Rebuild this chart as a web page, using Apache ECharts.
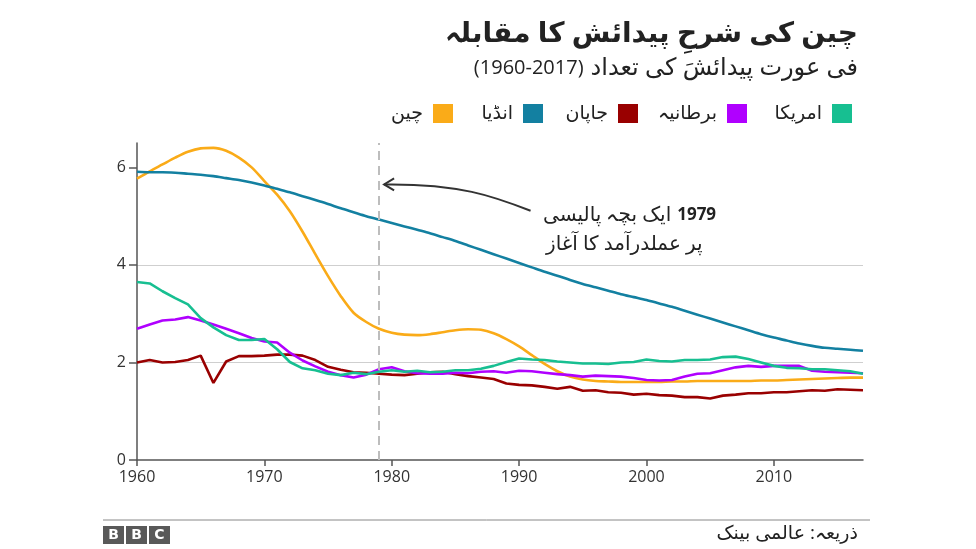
<!DOCTYPE html>
<html>
<head>
<meta charset="utf-8">
<script src="https://cdn.jsdelivr.net/npm/echarts@6/dist/echarts.min.js"></script>
<style>
html,body{margin:0;padding:0;background:#fff;}
#chart{width:976px;height:549px;}
</style>
</head>
<body>
<div id="chart" dir="rtl"></div>
<script>
// ---- Data ----
const years = [];
for (let y = 1960; y <= 2017; y++) years.push(y);

const seriesNames = ['چین', 'انڈیا', 'جاپان', 'برطانیہ', 'امریکا'];
const seriesColors = ['#FAAB18', '#1380A1', '#990000', '#B000FF', '#17BF91'];

const china = [5.77, 5.92, 6.06, 6.2, 6.32, 6.39, 6.4, 6.34, 6.2, 6.0,
  5.72, 5.44, 5.1, 4.68, 4.22, 3.77, 3.36, 3.02, 2.83, 2.69,
  2.61, 2.57, 2.56, 2.58, 2.62, 2.66, 2.68, 2.67, 2.6, 2.48,
  2.33, 2.15, 1.97, 1.82, 1.71, 1.65, 1.62, 1.61, 1.6, 1.6,
  1.6, 1.6, 1.61, 1.61, 1.62, 1.62, 1.62, 1.62, 1.62, 1.63,
  1.63, 1.64, 1.65, 1.66, 1.67, 1.68, 1.69, 1.69];
const india = [5.91, 5.9, 5.9, 5.89, 5.87, 5.85, 5.82, 5.78, 5.74, 5.69,
  5.63, 5.56, 5.49, 5.41, 5.33, 5.25, 5.16, 5.08, 5.0, 4.93,
  4.86, 4.79, 4.72, 4.65, 4.57, 4.49, 4.4, 4.31, 4.22, 4.13,
  4.04, 3.95, 3.86, 3.78, 3.69, 3.61, 3.54, 3.47, 3.4, 3.34,
  3.28, 3.21, 3.14, 3.06, 2.98, 2.9, 2.82, 2.74, 2.66, 2.58,
  2.51, 2.45, 2.39, 2.34, 2.3, 2.28, 2.26, 2.24];
const japan = [2.0, 2.05, 2.0, 2.01, 2.05, 2.14, 1.58, 2.02, 2.13, 2.13,
  2.14, 2.16, 2.16, 2.14, 2.05, 1.91, 1.85, 1.8, 1.79, 1.77,
  1.75, 1.74, 1.77, 1.8, 1.81, 1.76, 1.72, 1.69, 1.66, 1.57,
  1.54, 1.53, 1.5, 1.46, 1.5, 1.42, 1.43, 1.39, 1.38, 1.34,
  1.36, 1.33, 1.32, 1.29, 1.29, 1.26, 1.32, 1.34, 1.37, 1.37,
  1.39, 1.39, 1.41, 1.43, 1.42, 1.45, 1.44, 1.43];
const uk = [2.69, 2.78, 2.86, 2.88, 2.93, 2.86, 2.78, 2.69, 2.6, 2.5,
  2.43, 2.41, 2.2, 2.04, 1.92, 1.81, 1.74, 1.69, 1.75, 1.86,
  1.9, 1.82, 1.78, 1.77, 1.77, 1.79, 1.78, 1.81, 1.82, 1.79,
  1.83, 1.82, 1.79, 1.76, 1.74, 1.71, 1.73, 1.72, 1.71, 1.68,
  1.64, 1.63, 1.64, 1.71, 1.77, 1.78, 1.84, 1.9, 1.93, 1.91,
  1.93, 1.93, 1.93, 1.83, 1.81, 1.8, 1.79, 1.78];
const usa = [3.65, 3.62, 3.46, 3.32, 3.19, 2.91, 2.72, 2.56, 2.46, 2.46,
  2.48, 2.27, 2.01, 1.88, 1.84, 1.77, 1.74, 1.79, 1.76, 1.81,
  1.84, 1.81, 1.83, 1.8, 1.81, 1.84, 1.84, 1.87, 1.93, 2.01,
  2.08, 2.06, 2.05, 2.02, 2.0, 1.98, 1.98, 1.97, 2.0, 2.01,
  2.06, 2.03, 2.02, 2.05, 2.05, 2.06, 2.11, 2.12, 2.07, 2.0,
  1.93, 1.89, 1.88, 1.86, 1.86, 1.84, 1.82, 1.77];

const xTicks = [1960, 1970, 1980, 1990, 2000, 2010];
const yTicks = [0, 2, 4, 6];
const policyYear = 1979;

const titleText = 'چین کی شرحِ پیدائش کا مقابلہ';
const subtitleUrdu = 'فی عورت پیدائشَ کی تعداد';
const subtitleRange = '(1960-2017)';
const noteLine1 = 'ایک بچہ پالیسی';
const noteYear = '1979';
const noteLine2 = 'پر عملدرآمد کا آغاز';
const sourceText = 'ذریعہ: عالمی بینک';

// ---- Chart ----
const FONT = "'Open Sans','DejaVu Sans',sans-serif";
const chart = echarts.init(document.getElementById('chart'), null, {renderer: 'canvas'});
const allData = [china, india, japan, uk, usa];
const legendRights = [518, 428, 333, 224, 119];

const series = allData.map((d, i) => ({
  name: seriesNames[i],
  type: 'line',
  data: years.map((y, k) => [y, d[k]]),
  showSymbol: false,
  symbol: 'none',
  smooth: (i <= 1) ? 0.3 : false,
  lineStyle: {width: 2.6, color: seriesColors[i]},
  itemStyle: {color: seriesColors[i]},
  z: 3,
  animation: false
}));
series.push({
  type: 'line',
  data: [],
  markLine: {
    silent: true,
    symbol: 'none',
    label: {show: false},
    lineStyle: {color: '#bdbdbd', type: [9, 6], width: 2},
    data: [{xAxis: policyYear}],
    animation: false
  }
});

const legends = seriesNames.map((n, i) => ({
  data: [n],
  top: 99,
  right: legendRights[i],
  align: 'right',
  icon: 'rect',
  itemWidth: 20,
  itemHeight: 19,
  itemGap: 0,
  selectedMode: false,
  textStyle: {fontSize: 19, color: '#222', fontFamily: FONT, padding: [0, 5, 0, 0]}
}));

chart.setOption({
  animation: false,
  backgroundColor: '#fff',
  color: seriesColors,
  grid: {left: 137, right: 113, top: 143, bottom: 89, containLabel: false},
  legend: legends,
  xAxis: {
    type: 'value', min: 1960, max: 2017, interval: 10,
    axisLine: {show: true, lineStyle: {color: '#555', width: 1.5}},
    axisTick: {show: true, length: 6, lineStyle: {color: '#555', width: 1.5}, customValues: xTicks},
    axisLabel: {fontSize: 16, color: '#333', fontFamily: FONT, margin: 9, customValues: xTicks,
      formatter: v => String(v)},
    splitLine: {show: false}
  },
  yAxis: {
    type: 'value', min: 0, max: 6.5, interval: 2,
    axisLine: {show: true, lineStyle: {color: '#555', width: 1.5}},
    axisTick: {show: true, length: 8, lineStyle: {color: '#555', width: 1.5}, customValues: yTicks},
    axisLabel: {fontSize: 16, color: '#333', fontFamily: FONT, margin: 11, customValues: yTicks},
    splitLine: {show: true, showMinLine: false, showMaxLine: false, lineStyle: {color: '#cfcfcf', width: 1.2}}
  },
  series: series
});

// ---- Annotations anchored to data coordinates ----
const tip = chart.convertToPixel({gridIndex: 0}, [policyYear + 0.4, 5.65]);
const tail = chart.convertToPixel({gridIndex: 0}, [1990.9, 5.11]);
const c1 = [tip[0] + 75, tip[1] - 1];
const c2 = [tip[0] + 110, tip[1] + 12];

chart.setOption({
  graphic: [
    {type: 'text', right: 118, top: 20, style: {text: titleText, font: "bold 28px " + FONT, fill: '#222', textAlign: 'right'}},
    {type: 'text', right: 118, top: 56, style: {
      text: '{d|' + subtitleRange + '}{u|' + subtitleUrdu + '}',
      rich: {d: {font: "20px " + FONT, fill: '#222', padding: [0, 7, 0, 0]}, u: {font: "24px " + FONT, fill: '#222'}}
    }},
    {type: 'bezierCurve', shape: {x1: tip[0], y1: tip[1], cpx1: c1[0], cpy1: c1[1], cpx2: c2[0], cpy2: c2[1], x2: tail[0], y2: tail[1]},
      style: {stroke: '#333', lineWidth: 2, fill: null}, z: 10},
    {type: 'polyline', shape: {points: [[tip[0] + 10, tip[1] - 6], [tip[0], tip[1]], [tip[0] + 10, tip[1] + 6]]},
      style: {stroke: '#333', lineWidth: 2, fill: null}, z: 10},
    {type: 'text', x: 543, y: 205, z: 10, style: {
      text: '{n|' + noteLine1 + '}{b|' + noteYear + '}',
      rich: {n: {font: "20px " + FONT, fill: '#222'}, b: {font: "bold 17px " + FONT, fill: '#222', padding: [0, 0, 0, 6]}}
    }},
    {type: 'text', x: 546, y: 234, z: 10, style: {text: noteLine2, font: "20px " + FONT, fill: '#222'}},
    {type: 'line', shape: {x1: 103, y1: 520, x2: 870, y2: 520}, style: {stroke: '#888', lineWidth: 1}},
    {type: 'group', left: 103, top: 526, children: ['B', 'B', 'C'].map((ch, i) => ({
      type: 'group', x: i * 23, children: [
        {type: 'rect', shape: {x: 0, y: 0, width: 21, height: 18}, style: {fill: '#595959'}},
        {type: 'text', x: 10.5, y: 9, style: {text: ch, font: "bold 14px 'DejaVu Sans',sans-serif", fill: '#fff', textAlign: 'center', textVerticalAlign: 'middle'}}
      ]
    }))},
    {type: 'text', right: 118, top: 524, style: {text: sourceText, font: "19px " + FONT, fill: '#222', textAlign: 'right'}}
  ]
});
</script>
</body>
</html>
